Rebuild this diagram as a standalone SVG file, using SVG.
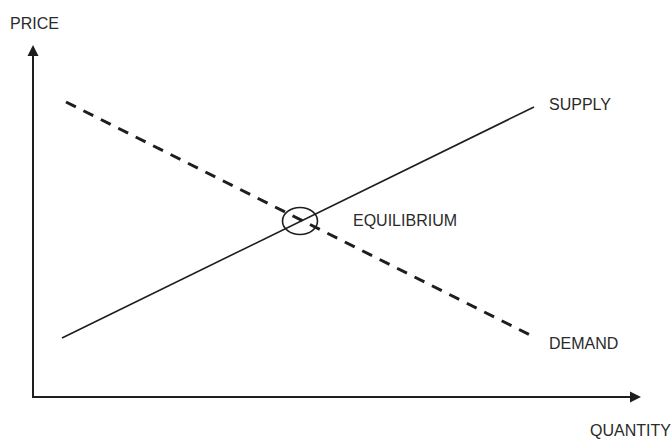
<svg xmlns="http://www.w3.org/2000/svg" width="672" height="439" viewBox="0 0 672 439">
<style>
text{font-family:"Liberation Sans",Arial,sans-serif;font-size:16px;fill:#2a2a2a}
.axis{stroke:#1e1e1e;stroke-width:2;fill:none}
.head{fill:#1e1e1e}
.supply{stroke:#1e1e1e;stroke-width:1.6;fill:none}
.demand{stroke:#1e1e1e;stroke-width:3;fill:none;stroke-dasharray:11 8.5}
</style>
<rect width="672" height="439" fill="#fff"/>
<g id="connectors">
<polyline class="axis" points="33,53 33,397 632,397"/>
<polygon class="head" points="33,45 27.5,56 38.5,56"/>
<polygon class="head" points="641,397 630,391.5 630,402.5"/>
<line class="supply" x1="62" y1="338" x2="534" y2="107"/>
<line class="demand" x1="66" y1="102" x2="536" y2="338"/>
</g>
<g id="equilibrium">
<ellipse cx="300" cy="221" rx="17.5" ry="13.5" fill="none" stroke="#1e1e1e" stroke-width="1.6"/>
<text x="353" y="226">EQUILIBRIUM</text>
</g>
<g id="price"><text x="10" y="29">PRICE</text></g>
<g id="supply"><text x="549" y="110">SUPPLY</text></g>
<g id="demand"><text x="549" y="349">DEMAND</text></g>
<g id="quantity"><text x="590" y="436">QUANTITY</text></g>
</svg>
